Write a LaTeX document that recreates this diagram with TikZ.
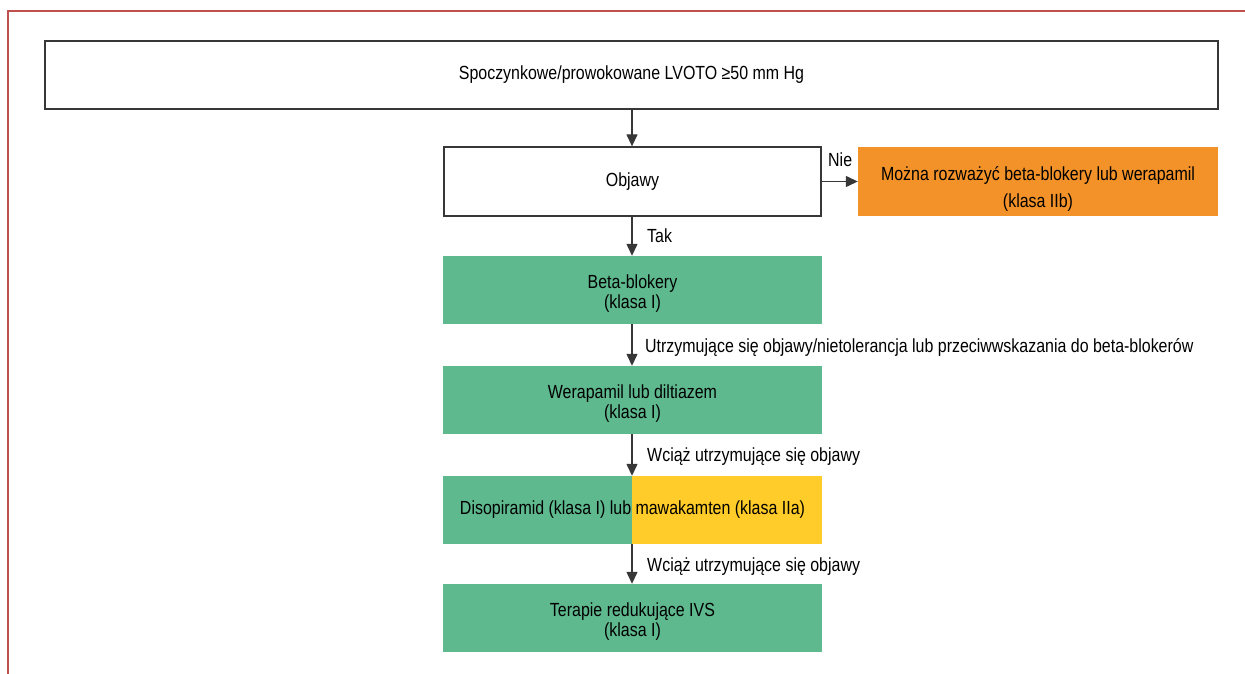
\documentclass[tikz,border=0pt]{standalone}
\usepackage{fontspec}
\setmainfont{Liberation Sans}[FakeStretch=0.84]
\usetikzlibrary{arrows.meta}
\definecolor{framered}{RGB}{192,80,77}
\definecolor{boxline}{RGB}{55,55,55}
\definecolor{tgreen}{RGB}{95,185,142}
\definecolor{torange}{RGB}{243,146,41}
\definecolor{tyellow}{RGB}{255,204,41}
\newcommand{\chartfont}{\fontsize{19}{20}\selectfont}
\newcommand{\widefont}{\fontsize{19}{27}\selectfont}
% invisible strut that lowers two-line texts inside their boxes
\newcommand{\topstrut}[1]{\rule{0pt}{#1}}
\tikzset{
  box/.style={draw=boxline, line width=1.3pt, minimum height=68pt, align=center, inner sep=0pt, font=\chartfont},
  greenbox/.style={fill=tgreen, minimum width=379pt, minimum height=68pt, align=center, inner sep=0pt, font=\chartfont},
  arr/.style={draw=boxline, line width=1.3pt, -{Triangle[length=12pt,width=11pt]}},
  lbl/.style={font=\chartfont, anchor=base west, inner sep=0pt}
}
\begin{document}
\begin{tikzpicture}[x=1pt,y=-1pt]
\useasboundingbox (0,0) rectangle (1245,674);
% outer frame (only top and left edges show)
\draw[framered, line width=1.6pt] (8,674) -- (8,11) -- (1245,11);

\node[box, minimum width=1173pt] (lvoto) at (631.5,75) {Spoczynkowe/prowokowane LVOTO ≥50 mm Hg};
\node[box, minimum width=377pt, minimum height=69pt] (obj) at (632.5,181.5) {Objawy};
\node[fill=torange, minimum width=360pt, minimum height=69pt, align=center, inner sep=0pt, font=\widefont] (alt) at (1038,181.5) {\topstrut{28pt}Można rozważyć beta-blokery lub werapamil\\(klasa IIb)};
\node[greenbox] (beta) at (632.5,290) {\topstrut{20pt}Beta-blokery\\(klasa I)};
\node[greenbox] (wera) at (632.5,400) {\topstrut{20pt}Werapamil lub diltiazem\\(klasa I)};
% split box: green left half, yellow right half
\fill[tgreen] (443,476) rectangle (632,544);
\fill[tyellow] (632,476) rectangle (822,544);
\node[minimum width=379pt, minimum height=68pt, inner sep=0pt, font=\chartfont] (diso) at (632.5,510) {Disopiramid (klasa I) lub mawakamten (klasa IIa)};
\node[greenbox] (ivs) at (632.5,618) {\topstrut{20pt}Terapie redukujące IVS\\(klasa I)};

\coordinate (c1) at (632,109);
\draw[arr] (lvoto.south -| c1) -- (obj.north -| c1);
\draw[arr] (obj.south -| c1) -- (beta.north -| c1);
\draw[arr] (obj.east) -- (alt.west);
\draw[arr] (beta.south -| c1) -- (wera.north -| c1);
\draw[arr] (wera.south -| c1) -- (diso.north -| c1);
\draw[arr] (diso.south -| c1) -- (ivs.north -| c1);

\node[lbl] (ltak) at (647,242) {Tak};
\node[lbl] (lnie) at (828,166.5) {Nie};
\node[lbl] (l1) at (645,352) {Utrzymujące się objawy/nietolerancja lub przeciwwskazania do beta-blokerów};
\node[lbl] (l2) at (647,461.5) {Wciąż utrzymujące się objawy};
\node[lbl] (l3) at (647,571) {Wciąż utrzymujące się objawy};
\end{tikzpicture}
\end{document}
